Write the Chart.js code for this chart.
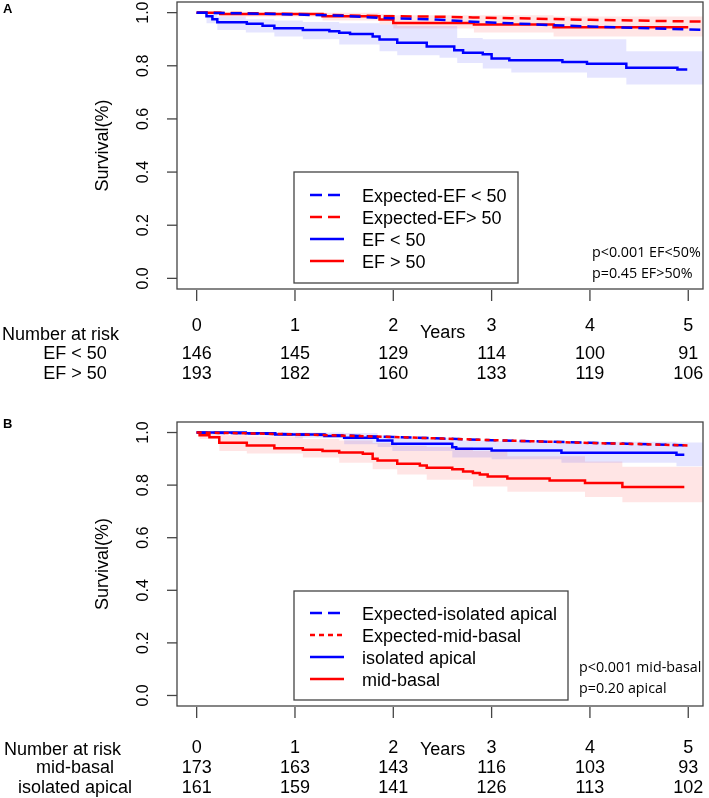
<!DOCTYPE html>
<html>
<head>
<meta charset="utf-8">
<script src="https://cdn.jsdelivr.net/npm/chart.js@4.4.1/dist/chart.umd.min.js"></script>
<style>
  html, body { margin: 0; padding: 0; background: #fff; }
  #wrap { position: relative; width: 709px; height: 798px; }
  canvas { position: absolute; left: 0; }
</style>
</head>
<body>
<div id="wrap">
  <canvas id="chartA" width="709" height="395" style="top:0"></canvas>
  <canvas id="chartB" width="709" height="403" style="top:395px"></canvas>
</div>
<script>
// axis ticks
const years = [0, 1, 2, 3, 4, 5];
const yTicks = [0, 0.2, 0.4, 0.6, 0.8, 1.0];

// Panel A - observed KM curves
const efLowX = [0, 0.10, 0.16, 0.21, 0.51, 0.67, 0.79, 1.08, 1.35, 1.45, 1.56, 1.79, 1.86, 2.04, 2.34, 2.62, 2.71, 2.91, 3.00, 3.18, 3.72, 3.97, 4.37, 4.89, 4.99];
const efLowY = [1, 0.986, 0.975, 0.964, 0.958, 0.951, 0.941, 0.935, 0.930, 0.924, 0.920, 0.910, 0.899, 0.887, 0.873, 0.858, 0.849, 0.843, 0.827, 0.821, 0.814, 0.808, 0.793, 0.786, 0.786];
const efHighX = [0, 0.24, 1.28, 1.86, 2.0, 2.82, 3.63, 5.0];
const efHighY = [1, 0.995, 0.986, 0.974, 0.961, 0.955, 0.945, 0.945];
// Panel A - confidence bands
const efLowBandX = [0, 0.10, 0.21, 0.5, 0.79, 1.08, 1.45, 1.86, 2.04, 2.47, 2.65, 2.91, 3.2, 3.97, 4.37, 5.15];
const efLowBandLo = [1, 0.96, 0.935, 0.925, 0.91, 0.9, 0.88, 0.855, 0.84, 0.83, 0.81, 0.79, 0.775, 0.755, 0.73, 0.73];
const efLowBandHi = [1, 1.0, 0.985, 0.975, 0.97, 0.965, 0.96, 0.955, 0.95, 0.95, 0.905, 0.9, 0.9, 0.9, 0.855, 0.855];
const efHighBandX = [0, 0.24, 1.28, 1.86, 2.0, 2.82, 3.63, 5.15];
const efHighBandLo = [1, 0.985, 0.97, 0.955, 0.94, 0.925, 0.91, 0.91];
const efHighBandHi = [1, 1.0, 1.0, 0.995, 0.99, 0.99, 0.985, 0.985];
// Panel A - expected
const expAX = [0, 0.5, 1.0, 1.5, 1.86, 2.4, 2.81, 3.2, 3.62, 4.0, 4.5, 5.15];
const expEfLowY = [1, 0.997, 0.993, 0.988, 0.98, 0.975, 0.966, 0.96, 0.953, 0.948, 0.942, 0.935];
const expEfHighY = [1, 0.998, 0.995, 0.99, 0.987, 0.985, 0.982, 0.979, 0.976, 0.973, 0.97, 0.966];
// Panel A - number at risk
const riskEfLow = [146, 145, 129, 114, 100, 91];
const riskEfHigh = [193, 182, 160, 133, 119, 106];

// Panel B - observed KM curves
const midX = [0, 0.03, 0.13, 0.23, 0.51, 0.79, 1.08, 1.28, 1.45, 1.69, 1.79, 1.84, 2.04, 2.27, 2.34, 2.60, 2.71, 2.81, 2.88, 2.96, 3.16, 3.59, 3.95, 4.33, 4.96];
const midY = [1, 0.99, 0.982, 0.961, 0.951, 0.94, 0.934, 0.93, 0.924, 0.919, 0.9, 0.894, 0.881, 0.875, 0.866, 0.86, 0.852, 0.846, 0.84, 0.833, 0.825, 0.818, 0.808, 0.793, 0.793];
const apX = [0, 0.5, 0.8, 1.3, 1.5, 1.84, 1.99, 2.6, 2.64, 3.0, 3.71, 4.88, 4.96];
const apY = [1, 0.997, 0.992, 0.987, 0.98, 0.97, 0.957, 0.944, 0.938, 0.932, 0.923, 0.915, 0.915];
// Panel B - confidence bands
const midBandX = [0, 0.03, 0.23, 0.51, 1.08, 1.45, 1.79, 2.04, 2.34, 2.81, 3.16, 3.95, 4.33, 5.15];
const midBandLo = [1, 0.975, 0.93, 0.92, 0.905, 0.885, 0.86, 0.84, 0.82, 0.795, 0.775, 0.755, 0.735, 0.735];
const midBandHi = [1, 1.0, 0.99, 0.985, 0.975, 0.97, 0.96, 0.95, 0.945, 0.93, 0.91, 0.89, 0.87, 0.87];
const apBandX = [0, 0.5, 1.0, 1.5, 1.84, 1.99, 2.6, 3.0, 3.71, 4.88, 5.15];
const apBandLo = [1, 0.99, 0.98, 0.955, 0.945, 0.93, 0.905, 0.898, 0.885, 0.872, 0.872];
const apBandHi = [1, 1.0, 1.0, 0.998, 0.99, 0.98, 0.97, 0.968, 0.965, 0.962, 0.962];
// Panel B - expected
const expBX = [0, 0.5, 1, 1.5, 2, 2.5, 3, 3.5, 4, 4.5, 5];
const expApY = [1, 0.997, 0.993, 0.989, 0.983, 0.977, 0.971, 0.966, 0.961, 0.956, 0.951];
const expMidY = [1, 0.997, 0.993, 0.988, 0.983, 0.977, 0.971, 0.966, 0.96, 0.956, 0.951];
// Panel B - number at risk
const riskMid = [173, 163, 143, 116, 103, 93];
const riskAp = [161, 159, 141, 126, 113, 102];

const BLUE = '#0000ff', RED = '#ff0000';
const BLUE_BAND = 'rgba(0,0,255,0.10)', RED_BAND = 'rgba(255,0,0,0.10)';
const FONT = '"Liberation Sans", Arial, sans-serif';

const pts = (xs, ys) => xs.map((x, i) => ({ x, y: ys[i] }));

const lineDs = (label, xs, ys, color, dash, stepped, order) => ({
  label, data: pts(xs, ys), borderColor: color, borderWidth: 2.5,
  borderDash: dash, stepped, pointRadius: 0, fill: false, order
});

const bandDs = (xs, lo, hi, color) => [
  { label: '', data: pts(xs, lo), borderWidth: 0, pointRadius: 0, stepped: true,
    fill: '+1', backgroundColor: color, order: 10 },
  { label: '', data: pts(xs, hi), borderWidth: 0, pointRadius: 0, stepped: true,
    fill: false, order: 10 }
];

// R-style axes, legend, p-values and risk table
const kmDecor = {
  id: 'kmDecor',
  afterDatasetsDraw(chart, args, o) {
    const ctx = chart.ctx, a = chart.chartArea;
    const xs = chart.scales.x, ys = chart.scales.y;
    const seg = (x1, y1, x2, y2) => { ctx.beginPath(); ctx.moveTo(x1, y1); ctx.lineTo(x2, y2); ctx.stroke(); };
    ctx.save();
    ctx.strokeStyle = '#444';
    ctx.lineWidth = 1.3;
    ctx.setLineDash([]);
    ctx.strokeRect(a.left, a.top, a.right - a.left, a.bottom - a.top);

    // panel letter
    ctx.fillStyle = '#000';
    ctx.font = 'bold 13px ' + FONT;
    ctx.textAlign = 'left';
    ctx.fillText(o.letter, 3, o.letterY);

    // y axis
    ctx.font = '16px ' + FONT;
    ctx.textAlign = 'center';
    yTicks.forEach(v => {
      const y = ys.getPixelForValue(v);
      seg(a.left - 10, y, a.left, y);
      ctx.save();
      ctx.translate(a.left - 29, y);
      ctx.rotate(-Math.PI / 2);
      ctx.fillText(v.toFixed(1), 0, 0);
      ctx.restore();
    });
    ctx.font = '18px ' + FONT;
    ctx.save();
    ctx.translate(a.left - 69, ys.getPixelForValue(0.5));
    ctx.rotate(-Math.PI / 2);
    ctx.fillText('Survival(%)', 0, 0);
    ctx.restore();

    // x axis (ticks + labels live in the risk table header)
    years.forEach((t, i) => {
      const x = xs.getPixelForValue(t);
      seg(x, a.bottom + 1, x, a.bottom + 12);
      ctx.fillText(String(t), x, a.bottom + o.tickDy);
      o.rows.forEach(r => ctx.fillText(String(r.values[i]), x, a.bottom + r.dy));
    });
    ctx.textAlign = 'left';
    ctx.fillText('Years', 420, a.bottom + 49);
    ctx.fillText('Number at risk', o.nrX, a.bottom + o.nrDy);
    ctx.textAlign = 'center';
    o.rows.forEach(r => ctx.fillText(r.label, 75, a.bottom + r.dy));

    // legend built from the labelled datasets
    const L = o.legend;
    ctx.fillStyle = '#fff';
    ctx.fillRect(L.x, L.y, L.w, L.h);
    ctx.strokeStyle = '#444';
    ctx.lineWidth = 1.3;
    ctx.strokeRect(L.x, L.y, L.w, L.h);
    ctx.font = '18px ' + FONT;
    ctx.textAlign = 'left';
    chart.data.datasets.filter(d => d.label).forEach((d, i) => {
      const cy = L.y + L.first + i * 22;
      ctx.strokeStyle = d.borderColor;
      ctx.lineWidth = 2.5;
      ctx.setLineDash(d.legendDash || []);
      seg(L.x + 16, cy, L.x + 50, cy);
      ctx.setLineDash([]);
      ctx.fillStyle = '#000';
      ctx.fillText(d.label, L.x + 68, cy + 6.5);
    });

    // p-values
    ctx.font = '14.3px "Open Sans", "Noto Sans", sans-serif';
    o.pvals.forEach((p, i) => ctx.fillText(p, o.pX, o.pY + i * 21));
    ctx.restore();
  }
};

const makeChart = (id, datasets, padding, decor) => new Chart(document.getElementById(id), {
  type: 'line',
  data: { datasets },
  options: {
    responsive: false,
    animation: false,
    layout: { padding },
    scales: {
      x: { type: 'linear', min: -0.2, max: 5.15, display: false },
      y: { type: 'linear', min: -0.04, max: 1.04, display: false }
    },
    plugins: { legend: { display: false }, tooltip: { enabled: false }, kmDecor: decor }
  },
  plugins: [kmDecor]
});

// Panel A
const dsA = [
  Object.assign(lineDs('Expected-EF < 50', expAX, expEfLowY, BLUE, [11, 6], false, 1), { legendDash: [12, 6] }),
  Object.assign(lineDs('Expected-EF> 50', expAX, expEfHighY, RED, [11, 6], false, 1), { legendDash: [12, 6] }),
  lineDs('EF < 50', efLowX, efLowY, BLUE, [], true, 2),
  lineDs('EF > 50', efHighX, efHighY, RED, [], true, 2),
  ...bandDs(efLowBandX, efLowBandLo, efLowBandHi, BLUE_BAND),
  ...bandDs(efHighBandX, efHighBandLo, efHighBandHi, RED_BAND)
];
makeChart('chartA', dsA, { left: 177, right: 6, top: 2, bottom: 106 }, {
  letter: 'A', letterY: 13,
  tickDy: 42, nrX: 2, nrDy: 51,
  rows: [{ label: 'EF < 50', values: riskEfLow, dy: 70 }, { label: 'EF > 50', values: riskEfHigh, dy: 90 }],
  legend: { x: 294, y: 172, w: 224, h: 111, first: 23 },
  pvals: ['p<0.001 EF<50%', 'p=0.45 EF>50%'], pX: 592, pY: 257
});

// Panel B
const dsB = [
  Object.assign(lineDs('Expected-isolated apical', expBX, expApY, BLUE, [11, 6], false, 1), { legendDash: [12, 6] }),
  Object.assign(lineDs('Expected-mid-basal', expBX, expMidY, RED, [5, 4], false, 0), { legendDash: [5, 4] }),
  lineDs('isolated apical', apX, apY, BLUE, [], true, 2),
  lineDs('mid-basal', midX, midY, RED, [], true, 2),
  ...bandDs(apBandX, apBandLo, apBandHi, BLUE_BAND),
  ...bandDs(midBandX, midBandLo, midBandHi, RED_BAND)
];
makeChart('chartB', dsB, { left: 177, right: 6, top: 27, bottom: 92 }, {
  letter: 'B', letterY: 33,
  tickDy: 47, nrX: 4, nrDy: 49,
  rows: [{ label: 'mid-basal', values: riskMid, dy: 67 }, { label: 'isolated apical', values: riskAp, dy: 87 }],
  legend: { x: 294, y: 196, w: 274, h: 109, first: 22 },
  pvals: ['p<0.001 mid-basal', 'p=0.20 apical'], pX: 579, pY: 277
});
</script>
</body>
</html>
